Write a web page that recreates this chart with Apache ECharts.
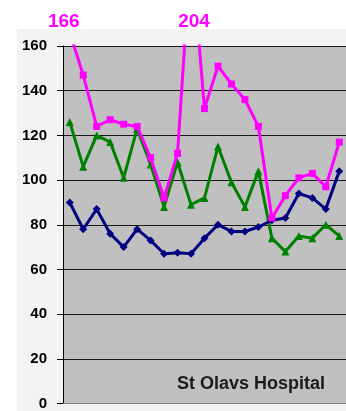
<!DOCTYPE html>
<html>
<head>
<meta charset="utf-8">
<script src="https://cdn.jsdelivr.net/npm/echarts@6/dist/echarts.min.js"></script>
<style>
  html, body { margin: 0; padding: 0; background: #ffffff; overflow: hidden; }
  #chart { width: 346px; height: 411px; }
</style>
</head>
<body>
<div id="chart"></div>
<script>
// Periods along the x axis (labels fall below the visible area)
const categories = ['1', '2', '3', '4', '5', '6', '7', '8', '9', '10', '11',
  '12', '13', '14', '15', '16', '17', '18', '19', '20', '21'];

// Series values
const navyValues = [90, 78, 87, 76, 70, 78, 73, 67, 67.5, 67, 74, 80, 77, 77, 79, 82, 83, 94, 92, 87, 104];
const greenValues = [126, 106, 120, 117, 101, 123, 107, 88, 108, 89, 92, 115, 99, 88, 104, 74, 68, 75, 74, 80, 75];
const magentaValues = [166, 147, 124, 127, 125, 124, 110, 92, 112, 204, 132, 151, 143, 136, 124, 83, 93, 101, 103, 97, 117];

// Value axis
const yMin = 0;
const yMax = 160;
const yStep = 20;

const captionText = 'St Olavs Hospital';

// Values above the axis ceiling get a callout printed above the plot
const calloutShift = { 0: -6, 9: 3 };
const callouts = [];
magentaValues.forEach(function (v, i) {
  if (v > yMax) {
    callouts.push({
      coord: [i, yMax],
      value: v,
      label: { offset: [calloutShift[i] || 0, -24] }
    });
  }
});

const chart = echarts.init(document.getElementById('chart'), null, { renderer: 'canvas' });

const lineWidth = 3;

chart.setOption({
  animation: false,
  backgroundColor: '#ffffff',
  graphic: [
    {
      type: 'rect',
      z: -10,
      silent: true,
      shape: { x: 17, y: 29, width: 340, height: 400 },
      style: { fill: '#f3f3f3' }
    },
    {
      type: 'text',
      z: 50,
      left: 'auto',
      x: 251,
      y: 384,
      style: {
        text: captionText,
        fill: '#1a1a1a',
        font: 'bold 18px "Liberation Sans", Arial, sans-serif',
        textAlign: 'center',
        textVerticalAlign: 'middle'
      }
    }
  ],
  grid: {
    left: 63,
    right: -6,
    top: 46,
    bottom: 4,
    show: true,
    backgroundColor: '#c0c0c0',
    borderWidth: 0
  },
  xAxis: {
    type: 'category',
    data: categories,
    boundaryGap: true,
    axisLine: { show: true, lineStyle: { color: '#808080', width: 1 } },
    axisTick: { show: false },
    axisLabel: { show: false },
    splitLine: { show: false }
  },
  yAxis: {
    type: 'value',
    min: yMin,
    max: yMax,
    interval: yStep,
    axisLine: { show: true, lineStyle: { color: '#000000', width: 1 } },
    axisTick: { show: true, inside: false, length: 6, lineStyle: { color: '#000000' } },
    axisLabel: {
      margin: 16,
      color: '#000000',
      fontFamily: '"Liberation Sans", Arial, sans-serif',
      fontWeight: 'bold',
      fontSize: 15
    },
    splitLine: { show: true, lineStyle: { color: '#1a1a1a', width: 1 } }
  },
  series: [
    {
      name: 'Serie 2',
      type: 'line',
      data: greenValues,
      clip: true,
      symbol: 'triangle',
      symbolSize: 8,
      lineStyle: { color: '#008000', width: lineWidth },
      itemStyle: { color: '#008000' },
      z: 2
    },
    {
      name: 'Serie 1',
      type: 'line',
      data: navyValues,
      clip: true,
      symbol: 'diamond',
      symbolSize: 8,
      lineStyle: { color: '#000080', width: lineWidth },
      itemStyle: { color: '#000080' },
      z: 3
    },
    {
      name: 'Serie 3',
      type: 'line',
      data: magentaValues,
      clip: true,
      symbol: 'rect',
      symbolSize: 7,
      lineStyle: { color: '#ff00ff', width: lineWidth },
      itemStyle: { color: '#ff00ff' },
      z: 4,
      markPoint: {
        symbol: 'circle',
        symbolSize: 0,
        silent: true,
        itemStyle: { color: 'rgba(0,0,0,0)' },
        label: {
          show: true,
          position: 'inside',
          formatter: '{c}',
          color: '#ff00ff',
          fontFamily: '"Liberation Sans", Arial, sans-serif',
          fontWeight: 'bold',
          fontSize: 19
        },
        data: callouts
      }
    }
  ]
});
</script>
</body>
</html>
